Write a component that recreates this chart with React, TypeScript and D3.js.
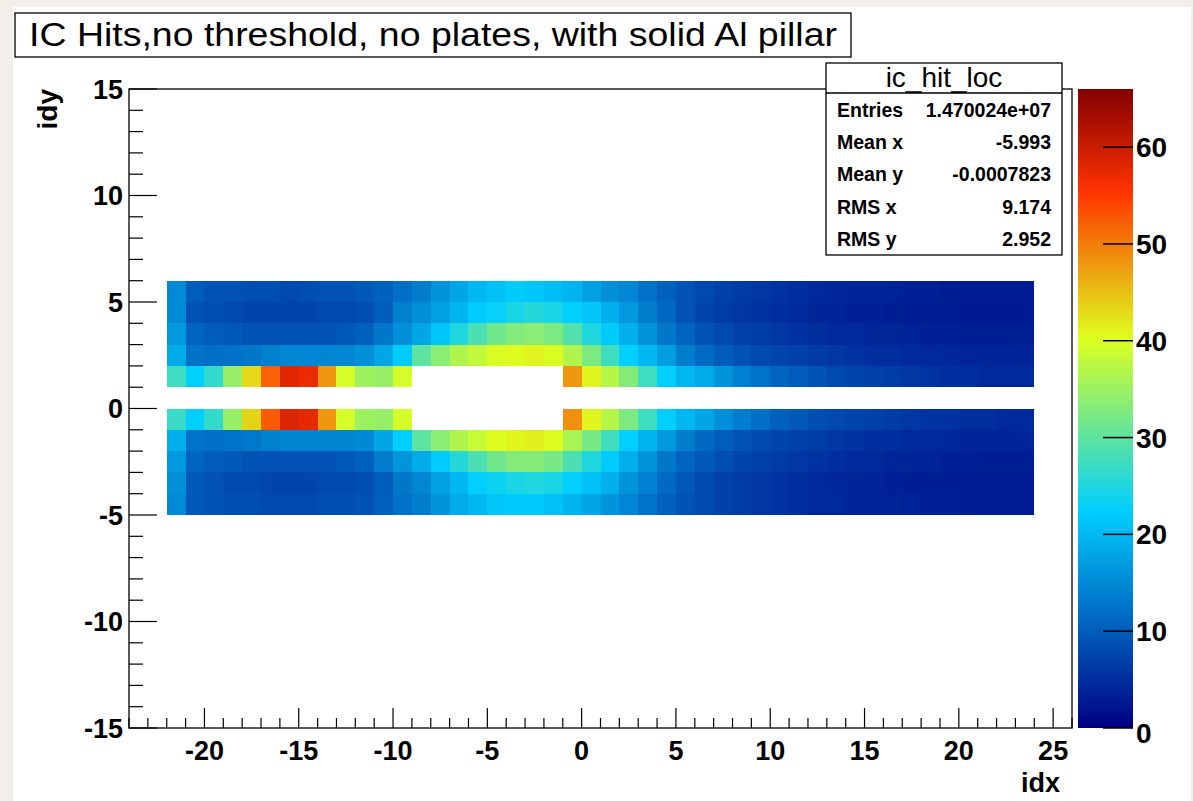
import React from "react";
import * as d3 from "d3";

const W = 1193;
const H = 801;

const title = "IC Hits,no threshold, no plates, with solid Al pillar";
const histName = "ic_hit_loc";
const statLabels = ["Entries", "Mean x", "Mean y", "RMS x", "RMS y"];
const statValues = ["1.470024e+07", "-5.993", "-0.0007823", "9.174", "2.952"];

// bin low edges along idx (each bin is 1 wide)
const idxBins = [
  -22, -21, -20, -19, -18, -17, -16, -15, -14, -13, -12, -11, -10, -9, -8, -7,
  -6, -5, -4, -3, -2, -1, 0, 1, 2, 3, 4, 5, 6, 7, 8, 9, 10, 11, 12, 13, 14, 15,
  16, 17, 18, 19, 20, 21, 22, 23,
];

// bin contents per idy row (row [0,1] is empty)
const hitsY5 = [15, 10, 9, 9, 8.5, 8.5, 8, 8.5, 9, 9, 9.5, 10.5, 12, 13.5, 16, 18, 20, 21, 22, 21.5, 20.5, 19.5, 17.5, 15.5, 14.5, 12.5, 10.5, 9, 8, 7, 6.5, 6, 5.5, 5, 4.5, 4.3, 4, 4, 3.8, 3.5, 3.5, 3.2, 3, 3, 3, 3];
const hitsY4 = [15, 9, 8.5, 8, 7.5, 7.5, 7.5, 7.5, 8, 8, 8.5, 10, 14, 15.5, 17.5, 19.5, 22, 23, 24.5, 25.5, 24.5, 22.5, 21.5, 19, 16.5, 13.5, 11.5, 9, 7.5, 6.5, 6, 5.5, 5, 4.5, 4, 4, 3.5, 3.5, 3.3, 3, 3, 3, 2.8, 2.8, 2.8, 2.8];
const hitsY3 = [16.5, 11, 10, 9.5, 9, 9, 9, 9, 9, 9.5, 10.5, 13, 15.5, 18, 21.5, 25, 28.5, 31.5, 33, 33.5, 32.5, 29, 25, 22, 19, 16, 13, 11, 9, 8, 7, 6.5, 6, 5.5, 5, 4.5, 4.5, 4, 4, 3.8, 3.5, 3.5, 3.3, 3.2, 3.2, 3.2];
const hitsY2 = [18.5, 12.5, 12, 12.5, 13, 14, 14.5, 14.5, 14.5, 14.5, 15.5, 18, 22, 30, 33.5, 36.5, 38, 40, 40.5, 41, 40, 36.5, 32.5, 27.5, 22.5, 20, 17, 13.5, 11.5, 10, 9, 8, 7.5, 7, 6.5, 6, 5.5, 5, 5, 4.5, 4.5, 4.3, 4, 4, 4, 3.8];
const hitsY1 = [27.5, 22.5, 26.5, 34.5, 43, 52, 58, 57, 48, 39.5, 35, 34.5, 39.5, 0, 0, 0, 0, 0, 0, 0, 0, 48, 41, 37, 33, 27.5, 22.5, 20, 18.5, 16, 14, 12.5, 11, 10, 9, 8, 7.5, 7, 6.5, 6, 5.5, 5, 5, 4.5, 4.5, 4.5];
const hitsYm1 = [27, 22.5, 26.5, 34.5, 43.5, 52.5, 58.5, 57.5, 48, 39.5, 35, 34.5, 39.5, 0, 0, 0, 0, 0, 0, 0, 0, 48.5, 41, 37, 32.5, 27.5, 22.5, 20, 18, 15.5, 13.5, 12, 10.5, 9.5, 8.5, 8, 7.5, 7, 6.5, 6, 5.5, 5.5, 5, 5, 4.5, 4.5];
const hitsYm2 = [19, 12.5, 12, 12.5, 13, 14, 14.5, 14.5, 14.5, 14.5, 15, 18, 22.5, 30, 33.5, 36.5, 38.5, 40.5, 41, 41.5, 40.5, 36, 32, 27.5, 22.5, 19.5, 16.5, 13.5, 11.5, 10, 9, 8, 7.5, 7, 6.5, 6, 5.5, 5, 5, 4.5, 4.5, 4.3, 4, 4, 4, 4];
const hitsYm3 = [16.5, 11, 10, 9.5, 9, 9, 9, 9, 9, 9.5, 10.5, 13.5, 16, 18.5, 22, 25.5, 28.5, 31.5, 33, 33, 32, 28.5, 25, 22, 19, 16, 13, 11, 9.5, 8.5, 7.5, 7, 6.5, 6, 5.5, 5, 4.5, 4.5, 4, 4, 3.8, 3.5, 3.5, 3.3, 3.3, 3.3];
const hitsYm4 = [15.5, 9.5, 9, 8, 8, 7.5, 7.5, 7.5, 8, 8, 8.5, 10, 13, 14.5, 17.5, 20, 22.5, 23.5, 24.5, 25, 24.5, 22.5, 21, 19, 16, 14, 11.5, 9.5, 8, 7, 6.5, 6, 5.5, 5, 4.5, 4.3, 4, 3.8, 3.5, 3.3, 3.2, 3.2, 3, 3, 3, 3];
const hitsYm5 = [15, 9.5, 9, 8.5, 8.5, 8, 8, 8, 8.5, 8.5, 9, 10.5, 12.5, 13.5, 16, 18.5, 20, 21.5, 22, 22, 21, 19.5, 18, 16, 14.5, 12.5, 10.5, 9, 8, 7, 6.5, 6, 5.5, 5, 4.5, 4.5, 4, 4, 4, 3.8, 3.5, 3.5, 3.3, 3, 3, 3];

const rows = [
  { idy: 5, hits: hitsY5 },
  { idy: 4, hits: hitsY4 },
  { idy: 3, hits: hitsY3 },
  { idy: 2, hits: hitsY2 },
  { idy: 1, hits: hitsY1 },
  { idy: -1, hits: hitsYm1 },
  { idy: -2, hits: hitsYm2 },
  { idy: -3, hits: hitsYm3 },
  { idy: -4, hits: hitsYm4 },
  { idy: -5, hits: hitsYm5 },
];

const xDomain = [-24, 26];
const yDomain = [-15, 15];
const zMax = 66;
const xLabelTicks = [-20, -15, -10, -5, 0, 5, 10, 15, 20, 25];
const yLabelTicks = [-15, -10, -5, 0, 5, 10, 15];
const zLabelTicks = [0, 10, 20, 30, 40, 50, 60];

// ROOT style gradient palette
const paletteStops = [0, 0.34, 0.61, 0.84, 1.0];
const paletteColors = ["#000082", "#00cfff", "#deff1f", "#ff3300", "#820000"];

const font = "'Liberation Sans', Arial, Helvetica, sans-serif";

export default function App() {
  const frame = { left: 129, right: 1072, top: 89, bottom: 728 };
  const x = d3.scaleLinear().domain(xDomain).range([frame.left, frame.right]);
  const y = d3.scaleLinear().domain(yDomain).range([frame.bottom, frame.top]);
  const z = d3.scaleLinear().domain([0, zMax]).range([frame.bottom, frame.top]);
  const color = d3
    .scaleLinear<string>()
    .domain(paletteStops.map((s) => s * zMax))
    .range(paletteColors)
    .interpolate(d3.interpolateRgb)
    .clamp(true);

  const bar = { left: 1078, right: 1133 };

  const cells = rows.flatMap((r) =>
    r.hits
      .map((v, i) => ({ ix: idxBins[i], iy: r.idy, v }))
      .filter((c) => c.v > 0)
  );

  const xMinor = x.ticks(50);
  const yMinor = y.ticks(30);

  return (
    <svg
      width={W}
      height={H}
      style={{ position: "fixed", left: 0, top: 0 }}
      fontFamily={font}
    >
      <defs>
        <linearGradient id="pal" x1="0" y1="1" x2="0" y2="0">
          {paletteStops.map((s, i) => (
            <stop key={i} offset={s} stopColor={paletteColors[i]} />
          ))}
        </linearGradient>
      </defs>
      <rect width={W} height={H} fill="#f2efea" />
      <rect x={13} y={7} width={1178} height={H - 7} fill="#fff" />

      {/* title */}
      <rect x={15} y={13} width={836} height={44} fill="#fff" stroke="#000" strokeWidth={1.3} />
      <text x={433} y={46} textAnchor="middle" fontSize={34} textLength={808} lengthAdjust="spacingAndGlyphs">
        {title}
      </text>

      {/* cells */}
      <g shapeRendering="crispEdges">
        {cells.map((c, i) => (
          <rect
            key={i}
            x={x(c.ix)}
            y={y(c.iy + 1)}
            width={x(c.ix + 1) - x(c.ix)}
            height={y(c.iy) - y(c.iy + 1)}
            fill={color(c.v)}
          />
        ))}
      </g>

      {/* frame */}
      <rect
        x={frame.left}
        y={frame.top}
        width={frame.right - frame.left}
        height={frame.bottom - frame.top}
        fill="none"
        stroke="#000"
        strokeWidth={1.3}
      />

      {/* axis ticks */}
      <g stroke="#000" strokeWidth={1.2}>
        {xMinor.map((t) => {
          const major = t % 5 === 0;
          return (
            <line key={t} x1={x(t)} x2={x(t)} y1={frame.bottom} y2={frame.bottom - (major ? 20 : 10)} />
          );
        })}
        {yMinor.map((t) => {
          const major = t % 5 === 0;
          return (
            <line key={t} x1={frame.left} x2={frame.left + (major ? 28 : 14)} y1={y(t)} y2={y(t)} />
          );
        })}
      </g>
      <g fontSize={27} fontWeight="bold" textAnchor="middle">
        {xLabelTicks.map((t) => (
          <text key={t} x={x(t)} y={760}>
            {t}
          </text>
        ))}
      </g>
      <g fontSize={27} fontWeight="bold" textAnchor="end">
        {yLabelTicks.map((t) => (
          <text key={t} x={123} y={y(t)} dy="0.36em">
            {t}
          </text>
        ))}
      </g>
      <text x={1060} y={792} fontSize={27} fontWeight="bold" textAnchor="end">
        idx
      </text>
      <text
        transform={`translate(57,${frame.top}) rotate(-90)`}
        fontSize={28}
        fontWeight="bold"
        textAnchor="end"
      >
        idy
      </text>

      {/* palette */}
      <rect
        x={bar.left}
        y={frame.top}
        width={bar.right - bar.left}
        height={frame.bottom - frame.top}
        fill="url(#pal)"
      />
      <g stroke="#000" strokeWidth={1.5}>
        {zLabelTicks.map((t) => (
          <line key={t} x1={bar.right - 30} x2={bar.right} y1={z(t)} y2={z(t)} />
        ))}
      </g>
      <g fontSize={28} fontWeight="bold">
        {zLabelTicks.map((t) => (
          <text key={t} x={bar.right + 3} y={z(t)} dy={t === 0 ? "0.55em" : "0.36em"}>
            {t}
          </text>
        ))}
      </g>

      {/* stats box */}
      <rect x={826} y={63} width={236} height={192} fill="#fff" stroke="#000" strokeWidth={1.3} />
      <line x1={826} x2={1062} y1={93} y2={93} stroke="#000" strokeWidth={1.3} />
      <text x={944} y={87} textAnchor="middle" fontSize={28}>
        {histName}
      </text>
      <g fontSize={19.5} fontWeight="bold">
        {statLabels.map((l, i) => (
          <g key={l}>
            <text x={837} y={117 + i * 32.2}>
              {l}
            </text>
            <text x={1051} y={117 + i * 32.2} textAnchor="end">
              {statValues[i]}
            </text>
          </g>
        ))}
      </g>
    </svg>
  );
}
